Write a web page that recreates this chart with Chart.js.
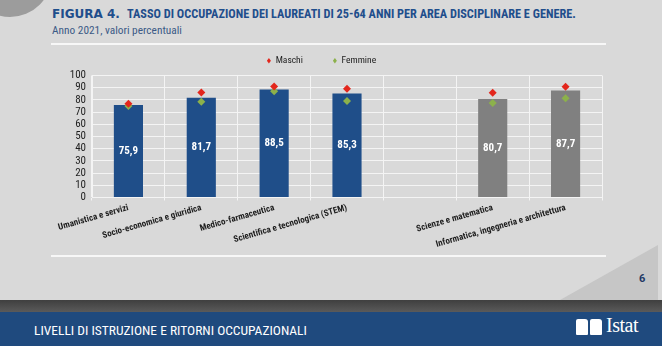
<!DOCTYPE html>
<html>
<head>
<meta charset="utf-8">
<script src="https://cdn.jsdelivr.net/npm/chart.js@4"></script>
<style>
  html, body { margin: 0; padding: 0; }
  body { width: 662px; height: 346px; overflow: hidden; position: relative; background: #d9d9d9; font-family: Roboto, sans-serif; font-stretch: 84%; }
  .circle { position: absolute; left: -32px; top: -67px; width: 84px; height: 84px; border-radius: 50%; background: #9c9c9c; }
  .fig { position: absolute; left: 52px; top: 7px; color: #1f4e8c; font-family: "DejaVu Sans", sans-serif; font-stretch: normal; font-weight: bold; font-size: 12px; }
  .title { position: absolute; left: 127px; top: 7px; color: #1f4e8c; font-weight: bold; font-size: 12.5px; white-space: nowrap; line-height: 15px; }
  .sub { position: absolute; left: 52px; top: 23px; color: #3b5a86; font-size: 12px; white-space: nowrap; line-height: 15px; }
  .rule { position: absolute; left: 51px; width: 555px; height: 2px; background: #f7f7f7; }
  .curl { position: absolute; left: 560px; top: 245px; width: 98px; height: 55px; background: #c6c6c6; clip-path: polygon(100% 0, 100% 100%, 0 100%); }
  .page { position: absolute; left: 639px; top: 272px; color: #1f3864; font-weight: bold; font-size: 11px; font-stretch: normal; }
  .strip { position: absolute; left: 0; top: 300px; width: 662px; height: 12px; background: linear-gradient(#3f3f3f, #5a5a5a); }
  .band { position: absolute; left: 0; top: 312px; width: 662px; height: 34px; background: #1f4a7e; }
  .foot { position: absolute; left: 34px; top: 323px; color: #ffffff; font-size: 13px; white-space: nowrap; line-height: 15px; }
  .book { position: absolute; top: 319px; width: 12px; height: 16px; background: #ffffff; border-radius: 2px 3px 1px 1px; }
  .istat { position: absolute; left: 606px; top: 314px; color: #ffffff; font-family: "Liberation Serif", "DejaVu Serif", serif; font-size: 20px; letter-spacing: -0.5px; }
  #wrap { position: absolute; left: 0; top: 22px; width: 662px; height: 230px; }
</style>
</head>
<body>
<div class="circle"></div>
<div class="fig">FIGURA 4.</div>
<div class="title" data-w="449">TASSO DI OCCUPAZIONE DEI LAUREATI DI 25-64 ANNI PER AREA DISCIPLINARE E GENERE.</div>
<div class="sub" data-w="130">Anno 2021, valori percentuali</div>
<div class="rule" style="top:43px"></div>
<div class="rule" style="top:255px"></div>
<div class="curl"></div>
<div class="page">6</div>
<div class="strip"></div>
<div class="band"></div>
<div class="foot" data-w="273">LIVELLI DI ISTRUZIONE E RITORNI OCCUPAZIONALI</div>
<div class="book" style="left:576px"></div>
<div class="book" style="left:590px"></div>
<div class="istat">Istat</div>
<div id="wrap"><canvas id="chart"></canvas></div>

<script>
// area disciplinare (empty slot separates the two groups)
const categories = ['Umanistica e servizi', 'Socio-economica e giuridica', 'Medico-farmaceutica',
    'Scientifica e tecnologica (STEM)', '', 'Scienze e matematica', 'Informatica, ingegneria e architettura'];
const totale = [75.9, 81.7, 88.5, 85.3, null, 80.7, 87.7];
const maschi = [76.8, 86.1, 91.0, 89.1, null, 85.8, 90.8];
const femmine = [75.0, 78.5, 87.1, 79.1, null, 77.4, 81.3];
const yTicks = [0, 10, 20, 30, 40, 50, 60, 70, 80, 90, 100];

const barColors = ['#1f4e89', '#1f4e89', '#1f4e89', '#1f4e89', '#1f4e89', '#808080', '#808080'];

// squeeze html text lines to the width they have in the slide
document.querySelectorAll('[data-w]').forEach(function (el) {
    const size = parseFloat(getComputedStyle(el).fontSize);
    el.style.fontSize = (size * el.dataset.w / el.getBoundingClientRect().width).toFixed(2) + 'px';
});

// white value labels in the middle of each bar
const barLabels = {
    id: 'barLabels',
    afterDatasetsDraw(chart) {
        const ctx = chart.ctx;
        const meta = chart.getDatasetMeta(2);
        ctx.save();
        ctx.fillStyle = '#ffffff';
        ctx.font = 'bold condensed 11px Roboto';
        ctx.textAlign = 'center';
        ctx.textBaseline = 'middle';
        meta.data.forEach(function (bar, i) {
            if (totale[i] == null) return;
            ctx.fillText(totale[i].toFixed(1).replace('.', ','), bar.x, (bar.y + bar.base) / 2);
        });
        ctx.restore();
    }
};

new Chart(document.getElementById('chart'), {
    data: {
        labels: categories,
        datasets: [{
            type: 'line',
            label: 'Maschi',
            data: maschi,
            showLine: false,
            pointStyle: 'rectRot',
            pointRadius: 4,
            backgroundColor: '#e3261c',
            borderColor: '#e3261c',
            borderWidth: 0
        }, {
            type: 'line',
            label: 'Femmine',
            data: femmine,
            showLine: false,
            pointStyle: 'rectRot',
            pointRadius: 4,
            backgroundColor: '#8cb14b',
            borderColor: '#8cb14b',
            borderWidth: 0
        }, {
            type: 'bar',
            label: 'Totale',
            data: totale,
            backgroundColor: barColors,
            barPercentage: 0.4,
            categoryPercentage: 1
        }]
    },
    options: {
        responsive: true,
        maintainAspectRatio: false,
        animation: false,
        // y axis is wide so that the legend centres where the slide has it
        layout: { padding: { left: 41, right: 60, top: 4, bottom: 0 } },
        plugins: {
            legend: {
                position: 'top',
                labels: {
                    usePointStyle: true,
                    pointStyle: 'rectRot',
                    pointStyleWidth: 4,
                    boxHeight: 4,
                    padding: 30,
                    color: '#222222',
                    font: { family: 'Roboto', weight: 'normal condensed', size: 9.5 },
                    filter: function (item) { return item.text !== 'Totale'; }
                }
            },
            tooltip: { enabled: false }
        },
        scales: {
            x: {
                grid: { color: '#f4f4f4', lineWidth: 1, tickLength: 3, offset: true },
                border: { color: '#f4f4f4' },
                ticks: {
                    color: '#1e1e1e',
                    font: { family: 'Roboto', weight: 'bold condensed', size: 9 },
                    minRotation: 16,
                    maxRotation: 16,
                    autoSkip: false,
                    padding: 2
                }
            },
            y: {
                min: 0,
                max: 100,
                afterFit: function (scale) { scale.width = 51; },
                afterBuildTicks: function (scale) { scale.ticks = yTicks.map(function (v) { return { value: v }; }); },
                grid: { color: '#f4f4f4', lineWidth: 1, drawTicks: false },
                border: { color: '#f4f4f4' },
                ticks: {
                    color: '#1e1e1e',
                    font: { family: 'Roboto', weight: 'normal condensed', size: 11 },
                    autoSkip: false,
                    padding: 6
                }
            }
        }
    },
    plugins: [barLabels]
});
</script>
</body>
</html>
